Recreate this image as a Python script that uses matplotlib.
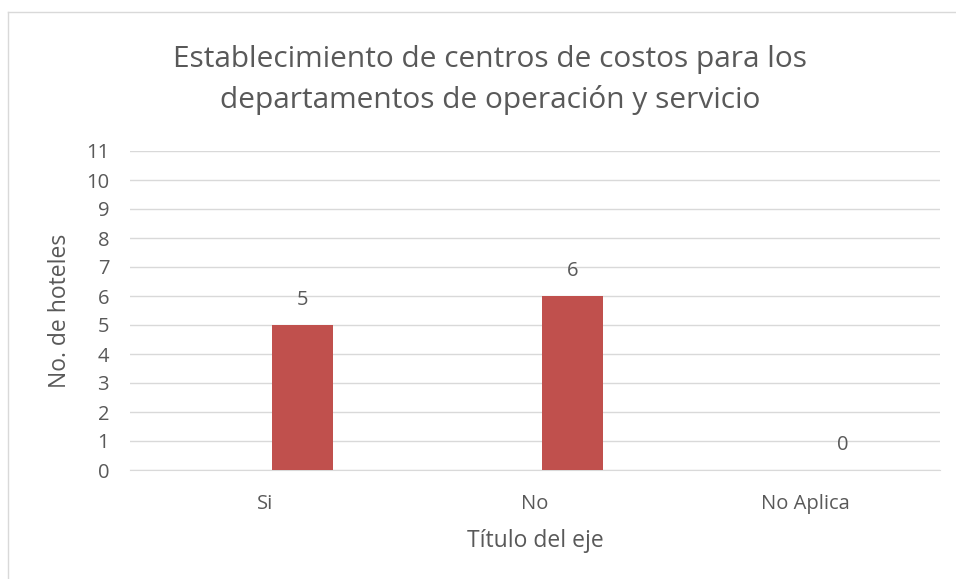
import numpy as np
import matplotlib.pyplot as plt

plt.rcParams['font.family'] = ['Open Sans', 'DejaVu Sans']

categories = ["Si", "No", "No Aplica"]
values = [5, 6, 0]
y_ticks = list(range(0, 12))

text_col = "#595959"
grid_col = "#D9D9D9"
bar_col = "#C0504D"

fig = plt.figure(figsize=(9.56, 5.79), dpi=100)
ax = fig.add_axes([130 / 956, 1 - 470 / 579, 810 / 956, 319 / 579])

x = np.arange(len(categories))
# bars sit right of the category centre (empty second series slot in the original)
bar_x = x + 0.14
ax.bar(bar_x, values, width=0.225, color=bar_col, zorder=3)

ax.set_xlim(-0.5, len(categories) - 0.5)
ax.set_ylim(0, 11)
ax.set_yticks(y_ticks)
ax.set_xticks(x)
ax.set_xticklabels(categories)
ax.tick_params(axis='both', length=0, colors=text_col, labelsize=14.5)
ax.tick_params(axis='x', pad=17.5)
ax.tick_params(axis='y', pad=15)
ax.grid(axis='y', color=grid_col, linewidth=1, zorder=0)
for s in ['top', 'right', 'left']:
    ax.spines[s].set_visible(False)
ax.spines['bottom'].set_color(grid_col)

for xi, v in zip(bar_x, values):
    ax.annotate(str(v), (xi, v), xytext=(0, 18), textcoords='offset points',
                ha='center', va='center', fontsize=14.5, color=text_col)

ax.set_ylabel("No. de hoteles", fontsize=16.5, color=text_col, va='center')
ax.yaxis.set_label_coords(-70 / 810, 0.5)
ax.set_xlabel("Título del eje", fontsize=16.5, color=text_col, va='center')
ax.xaxis.set_label_coords(0.5, -71 / 319)

fig.text(490 / 956, 1 - 80 / 579,
         "Establecimiento de centros de costos para los\ndepartamentos de operación y servicio",
         ha='center', va='center', fontsize=21.5, color=text_col, linespacing=1.5)

# chart border (only top and left edges visible in the crop)
fig.add_artist(plt.Line2D([8 / 956, 8 / 956], [0, 1 - 12 / 579], color=grid_col,
                          lw=1, transform=fig.transFigure))
fig.add_artist(plt.Line2D([8 / 956, 1], [1 - 12 / 579, 1 - 12 / 579], color=grid_col,
                          lw=1, transform=fig.transFigure))

fig.savefig("out.png", dpi=100)
